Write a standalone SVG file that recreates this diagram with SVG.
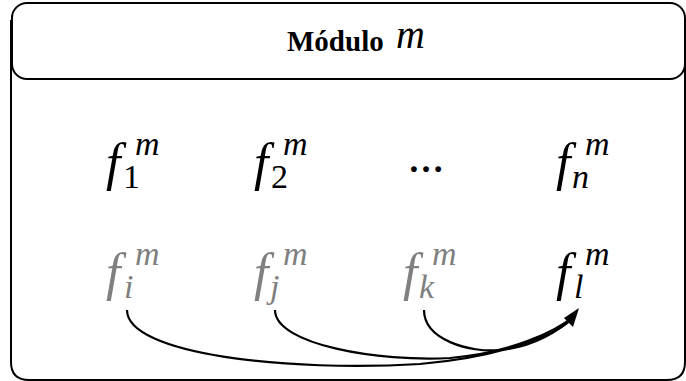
<svg xmlns="http://www.w3.org/2000/svg" width="686" height="381" viewBox="0 0 686 381">
<style>
.box{fill:none;stroke:#000;stroke-width:2}
.f{font-style:italic;font-size:52px}
.s{font-style:italic;font-size:34px}
.n{font-size:34px}
.g{fill:#808080}
.k{fill:#000}
.title{font-weight:bold;font-size:29px}
.c{fill:none;stroke:#000;stroke-width:2.2}
</style>
<g id="module">
<path class="box" d="M11,20 V362 Q11,380 29,380 H667 Q685,380 685,362 V20"/>
</g>
<g id="header">
<rect class="box" x="12" y="3" width="673" height="76" rx="15"/>
<text x="287" y="51" class="title" font-family="Liberation Serif, serif">Módulo</text>
<text x="396" y="48" font-family="Liberation Serif, serif" font-style="italic" font-size="40">m</text>
</g>
<g id="f1"><text class="f k" x="106" y="180" font-family="Liberation Serif, serif">f</text><text class="n k" x="123" y="188" font-family="Liberation Serif, serif">1</text><text class="s k" x="135" y="155" font-family="Liberation Serif, serif">m</text></g>
<g id="f2"><text class="f k" x="254" y="180" font-family="Liberation Serif, serif">f</text><text class="n k" x="271" y="188" font-family="Liberation Serif, serif">2</text><text class="s k" x="283" y="155" font-family="Liberation Serif, serif">m</text></g>
<g id="dots"><text x="408" y="172" font-size="36" font-weight="bold" font-family="Liberation Serif, serif">…</text></g>
<g id="fn"><text class="f k" x="556" y="180" font-family="Liberation Serif, serif">f</text><text class="s k" x="572" y="188" font-family="Liberation Serif, serif">n</text><text class="s k" x="585" y="155" font-family="Liberation Serif, serif">m</text></g>
<g id="fi"><text class="f g" x="106" y="290" font-family="Liberation Serif, serif">f</text><text class="s g" x="124" y="298" font-family="Liberation Serif, serif">i</text><text class="s g" x="135" y="265" font-family="Liberation Serif, serif">m</text></g>
<g id="fj"><text class="f g" x="254" y="290" font-family="Liberation Serif, serif">f</text><text class="s g" x="270" y="298" font-family="Liberation Serif, serif">j</text><text class="s g" x="283" y="265" font-family="Liberation Serif, serif">m</text></g>
<g id="fk"><text class="f g" x="403" y="290" font-family="Liberation Serif, serif">f</text><text class="s g" x="419" y="298" font-family="Liberation Serif, serif">k</text><text class="s g" x="432" y="265" font-family="Liberation Serif, serif">m</text></g>
<g id="fl"><text class="f k" x="556" y="290" font-family="Liberation Serif, serif">f</text><text class="s k" x="574" y="298" font-family="Liberation Serif, serif">l</text><text class="s k" x="585" y="265" font-family="Liberation Serif, serif">m</text></g>
<g id="connectors">
<path class="c" d="M127,310 C127,355 290,372 420,364 C500,357 560,335 574,316"/>
<path class="c" d="M275,310 C275,345 380,362 450,358 C510,353 555,332 574,316"/>
<path class="c" d="M424,310 C424,340 470,353 500,350 C535,347 560,330 574,316"/>
<path d="M579,308 L564,318 L573,327 Z" fill="#000"/>
</g>
</svg>
